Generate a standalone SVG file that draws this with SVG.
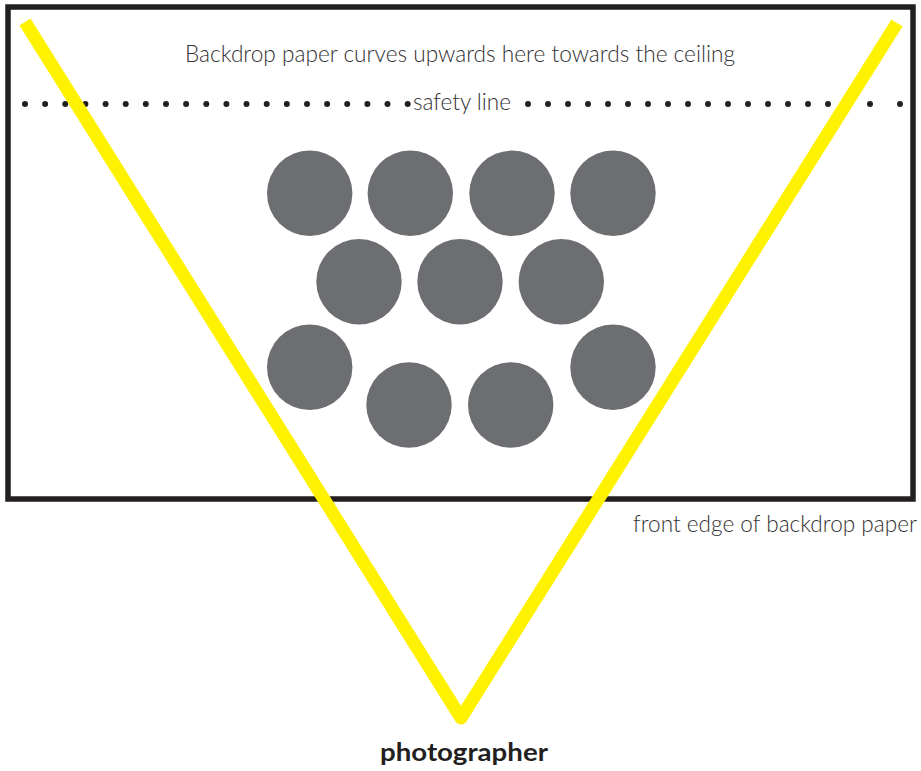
<svg xmlns="http://www.w3.org/2000/svg" width="921" height="771" viewBox="0 0 921 771">
<style>
.lbl{font-family:Lato,"Open Sans","Liberation Sans",sans-serif;font-weight:300;fill:#333132;font-size:22.5px}
.bold{font-family:Lato,"Open Sans","Liberation Sans",sans-serif;font-weight:700;fill:#231f20;font-size:25px}
.person{fill:#6d6e71}
.dot{fill:#231f20}
</style>
<rect width="921" height="771" fill="#ffffff"/>
<g id="backdrop">
<rect x="8" y="7" width="905" height="492" fill="none" stroke="#231f20" stroke-width="5.5"/>
</g>
<g id="safety-line">
<g class="dot">
<circle cx="25" cy="104" r="3"/><circle cx="45.1" cy="104" r="3"/><circle cx="65.3" cy="104" r="3"/><circle cx="85.4" cy="104" r="3"/><circle cx="105.6" cy="104" r="3"/><circle cx="125.7" cy="104" r="3"/><circle cx="145.8" cy="104" r="3"/><circle cx="166" cy="104" r="3"/><circle cx="186.1" cy="104" r="3"/><circle cx="206.3" cy="104" r="3"/><circle cx="226.4" cy="104" r="3"/><circle cx="246.5" cy="104" r="3"/><circle cx="266.7" cy="104" r="3"/><circle cx="286.8" cy="104" r="3"/><circle cx="307" cy="104" r="3"/><circle cx="327.1" cy="104" r="3"/><circle cx="347.2" cy="104" r="3"/><circle cx="367.4" cy="104" r="3"/><circle cx="387.5" cy="104" r="3"/><circle cx="407.7" cy="104" r="3"/>
<circle cx="528" cy="104" r="3"/><circle cx="548" cy="104" r="3"/><circle cx="568" cy="104" r="3"/><circle cx="588" cy="104" r="3"/><circle cx="608" cy="104" r="3"/><circle cx="628" cy="104" r="3"/><circle cx="648" cy="104" r="3"/><circle cx="668" cy="104" r="3"/><circle cx="688" cy="104" r="3"/><circle cx="708" cy="104" r="3"/><circle cx="728" cy="104" r="3"/><circle cx="748" cy="104" r="3"/><circle cx="768" cy="104" r="3"/><circle cx="788" cy="104" r="3"/><circle cx="808" cy="104" r="3"/><circle cx="828" cy="104" r="3"/><circle cx="848" cy="104" r="3"/><circle cx="870" cy="104" r="3"/><circle cx="900" cy="104" r="3"/>
</g>
<text class="lbl" x="413" y="109.5" font-size="21" textLength="98" lengthAdjust="spacingAndGlyphs">safety line</text>
</g>
<g id="people">
<circle class="person" cx="309.7" cy="193.3" r="42.7"/>
<circle class="person" cx="410.3" cy="193.3" r="42.7"/>
<circle class="person" cx="512" cy="193.3" r="42.7"/>
<circle class="person" cx="613" cy="193.3" r="42.7"/>
<circle class="person" cx="359" cy="281.7" r="42.7"/>
<circle class="person" cx="460" cy="281.7" r="42.7"/>
<circle class="person" cx="561.3" cy="281.7" r="42.7"/>
<circle class="person" cx="309.7" cy="367.3" r="42.7"/>
<circle class="person" cx="613" cy="367.3" r="42.7"/>
<circle class="person" cx="409" cy="405" r="42.7"/>
<circle class="person" cx="510.7" cy="405" r="42.7"/>
</g>
<g id="connectors">
<polyline points="25,22 461,718 897,23" fill="none" stroke="#fff200" stroke-width="13" stroke-linejoin="round" stroke-linecap="butt"/>
</g>
<g id="labels">
<text class="lbl" x="185" y="62" textLength="550" lengthAdjust="spacingAndGlyphs">Backdrop paper curves upwards here towards the ceiling</text>
<text class="lbl" x="633" y="532" textLength="284" lengthAdjust="spacingAndGlyphs">front edge of backdrop paper</text>
<text class="bold" x="380" y="761" textLength="168" lengthAdjust="spacingAndGlyphs">photographer</text>
</g>
</svg>
